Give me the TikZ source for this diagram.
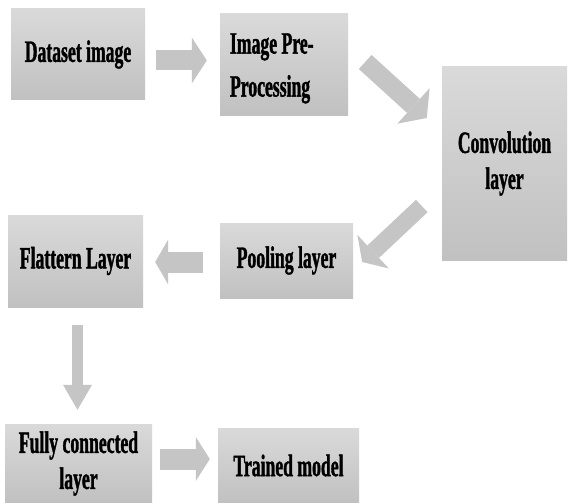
\documentclass[tikz,border=0pt]{standalone}
\usepackage{fontspec}
\newfontfamily\stagefont{Liberation Serif Bold}[FakeStretch=0.57, FakeBold=1.2]
\usepackage{tikz}
\usetikzlibrary{calc,arrows.meta}
\definecolor{stagegray}{RGB}{205,205,205}
\definecolor{flowgray}{RGB}{197,197,197}
\tikzset{
    stage/.style={top color=stagegray!75!white, bottom color=stagegray!94!black, inner sep=0pt, align=center,
        font=\stagefont\fontsize{31}{36}\selectfont},
    dims/.style 2 args={minimum width=#1pt, minimum height=#2pt},
    blockarrow/.style n args={3}{draw=flowgray, line width=#1, -{Triangle[length=#2, width=#3, line width=0pt]}}
}

\begin{document}
\begin{tikzpicture}[x=1pt,y=1pt]
\path[use as bounding box, fill=white](0,0) rectangle (568,-503);
\node[stage, dims={134}{91}] (data) at (78,-54.5) {Dataset image};
\node[stage, dims={128}{101}, text width=108pt, align=flush left, text height=28pt,
    font=\stagefont\fontsize{31}{43}\selectfont] (prep) at (284,-64.5) {Image Pre-\\Processing};
\node[stage, dims={125}{193}] (conv) at (504.5,-163.5) {Convolution\\layer};
\node[stage, dims={133}{75}] (pool) at (286.5,-260.5) {Pooling layer};
\node[stage, dims={135}{92}] (flat) at (75.5,-261) {Flattern Layer};
\node[stage, dims={147}{79}] (fc) at (78.5,-463.5) {Fully connected\\layer};
\node[stage, dims={141}{75}] (trained) at (288.5,-465.5) {Trained model};
\draw[blockarrow={20pt}{15pt}{46pt}, shorten <=11pt, shorten >=13pt]($(data.east)+(0,-6)$)--($(data.east -| prep.west)+(0,-6)$);
\draw[blockarrow={19pt}{18pt}{48pt}]($(prep.east)+(17,2.5)$)--($(conv.west)+(-15,45.5)$);
\draw[blockarrow={17pt}{15pt}{46pt}]($(conv.west)+(-20,-42.5)$)--($(pool.east)+(9,-1.5)$);
\draw[blockarrow={21pt}{13pt}{45pt}, shorten <=17pt, shorten >=12pt]($(pool.west)+(0,-1.5)$)--($(pool.west -| flat.east)+(0,-1.5)$);
\draw[blockarrow={11pt}{25pt}{29pt}, shorten <=18pt, shorten >=14pt]($(flat.south)+(2,0)$)--($(flat.south |- fc.north)+(2,0)$);
\draw[blockarrow={21pt}{14pt}{44pt}, shorten <=8pt, shorten >=8pt]($(fc.east)+(0,4.5)$)--($(fc.east -| trained.west)+(0,4.5)$);
\end{tikzpicture}
\end{document}
